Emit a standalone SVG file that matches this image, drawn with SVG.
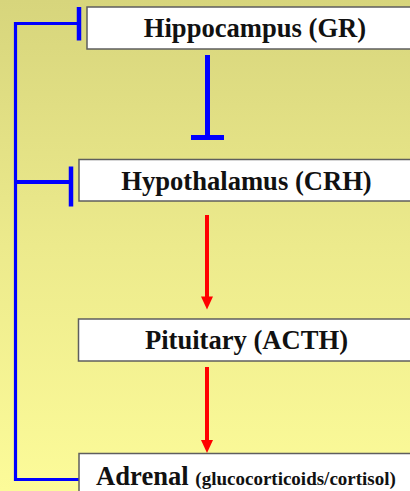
<svg xmlns="http://www.w3.org/2000/svg" width="410" height="491" viewBox="0 0 410 491">
  <defs>
    <linearGradient id="bg" x1="0" y1="0" x2="0" y2="1">
      <stop offset="0" stop-color="#d7d57c"/>
      <stop offset="0.5" stop-color="#ecea8c"/>
      <stop offset="1" stop-color="#fcfb99"/>
    </linearGradient>
    <style>
      .box { fill: #ffffff; stroke: #5e5e5e; stroke-width: 1.5; }
      .lbl { font-family: "Liberation Serif", "Times New Roman", serif; font-weight: bold; font-size: 26.6px; fill: #111111; text-anchor: middle; }
      .small { font-size: 19px; }
      .inh { stroke: #0000ff; fill: none; }
      .stim { stroke: #ff0000; stroke-width: 4; fill: none; }
      .head { fill: #ff0000; }
    </style>
  </defs>

  <rect x="0" y="0" width="410" height="491" fill="url(#bg)"/>

  <g id="connectors">
    <!-- feedback loop from adrenal output -->
    <polyline class="inh" stroke-width="3.2" points="79,479.5 15.5,479.5 15.5,23.5 79,23.5"/>
    <line class="inh" stroke-width="4" x1="15.5" y1="182" x2="71" y2="182"/>
    <!-- inhibition bars -->
    <line class="inh" stroke-width="4.5" x1="79" y1="7" x2="79" y2="40.5"/>
    <line class="inh" stroke-width="4.5" x1="71" y1="166.5" x2="71" y2="206.5"/>
    <!-- hippocampus to hypothalamus inhibition -->
    <line class="inh" stroke-width="5" x1="207.5" y1="55" x2="207.5" y2="137.5"/>
    <line class="inh" stroke-width="5" x1="191" y1="137.5" x2="224" y2="137.5"/>
    <!-- stimulatory arrows -->
    <line class="stim" x1="207" y1="215" x2="207" y2="298"/>
    <path class="head" d="M201,296.5 L213,296.5 L207,309.5 Z"/>
    <line class="stim" x1="207" y1="367" x2="207" y2="442"/>
    <path class="head" d="M201,440 L213,440 L207,453 Z"/>
  </g>

  <g id="hippocampus">
    <rect class="box" x="87" y="7" width="340" height="42"/>
    <text class="lbl" x="255" y="37">Hippocampus (GR)</text>
  </g>

  <g id="hypothalamus">
    <rect class="box" x="79" y="159.5" width="340" height="41.5"/>
    <text class="lbl" x="246.5" y="189.5">Hypothalamus (CRH)</text>
  </g>

  <g id="pituitary">
    <rect class="box" x="78.5" y="319" width="340" height="42"/>
    <text class="lbl" x="246.5" y="349">Pituitary (ACTH)</text>
  </g>

  <g id="adrenal">
    <rect class="box" x="79" y="453.5" width="340" height="45"/>
    <text class="lbl" x="246" y="484.5">Adrenal <tspan class="small">(glucocorticoids/cortisol)</tspan></text>
  </g>
</svg>
